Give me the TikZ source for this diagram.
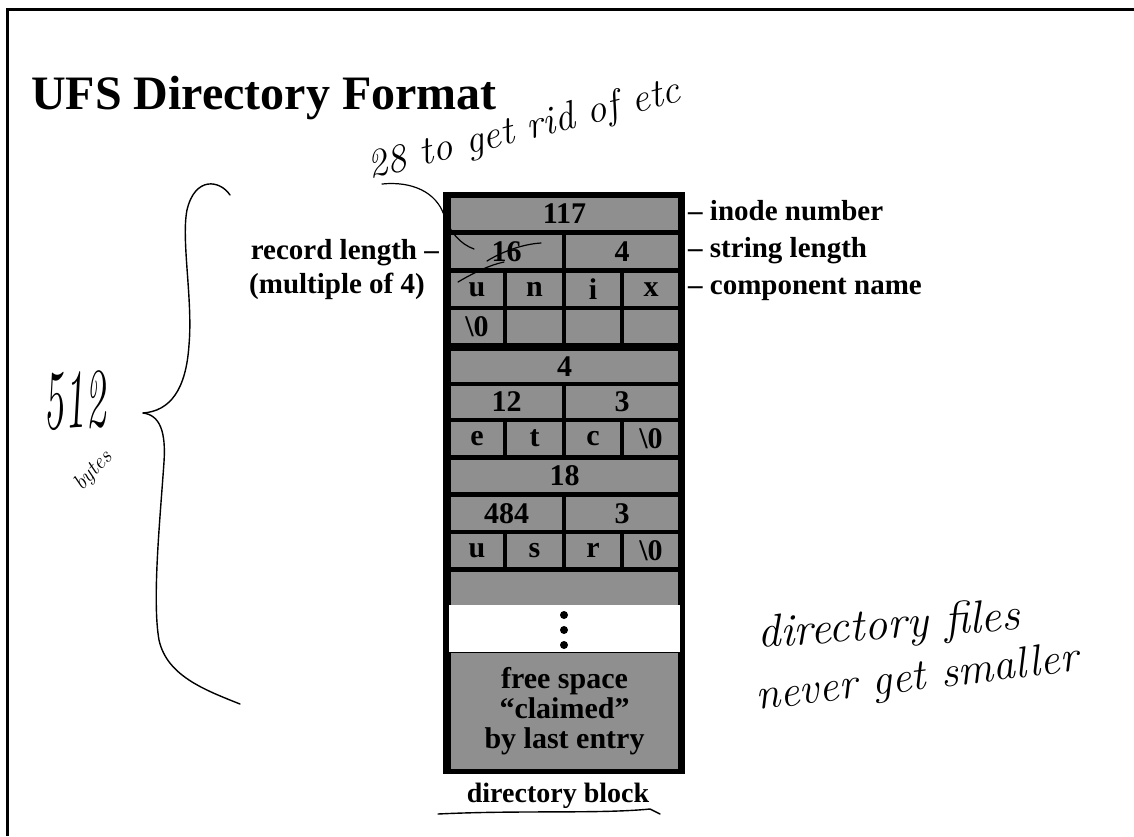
\documentclass[tikz,border=0pt]{standalone}
\usepackage{fontspec}
\setmainfont{Liberation Serif}
\newcommand\handfont[1]{\fontfamily{lmr}\fontshape{it}\fontsize{#1}{#1}\selectfont}
\newcommand\pfont[1]{\bfseries\fontsize{#1}{#1}\selectfont}
\newcommand\freefont{\bfseries\fontsize{30}{30}\selectfont}
\definecolor{shade}{gray}{0.56}
\tikzset{
  cell/.style={fill=shade, draw=none, inner sep=0pt, font=\pfont{30}},
  lbl/.style={inner sep=0pt, font=\pfont{29}},
  ink/.style={line width=1.4pt, line cap=round, line join=round},
  dot/.style={circle, fill=black, inner sep=0pt, minimum size=8pt},
  hw/.style={inner sep=0pt},
}
\newcommand\dcell[6]{\node[cell, minimum width={(#4-#2)*1pt}, minimum height={(#5-#3)*1pt}] (#1) at ({(#2+#4)/2},{(#3+#5)/2}) {#6};}
\begin{document}
\begin{tikzpicture}[x=1pt,y=-1pt]
\useasboundingbox (0,0) rectangle (1134,836);
\fill[white] (0,0) rectangle (1134,836);
% page frame
\draw[line width=3pt] (7,836) -- (7,9) -- (1134,9);
% title
\node[anchor=base west, inner sep=0pt, font=\pfont{48}] (title) at (31,109) {UFS Directory Format};
% block frame
\node[fill=black, inner sep=0pt, minimum width=242pt, minimum height=582pt] (block) at (564,483) {};
% entry 1
\dcell{inoA}{451}{198}{678}{230}{117}
\dcell{rlA}{451}{235}{562}{268}{16}
\dcell{slA}{566}{235}{678}{268}{4}
\dcell{nAa}{451}{273}{503}{306}{u}
\dcell{nAb}{507}{273}{562}{306}{n}
\dcell{nAc}{566}{273}{620}{306}{i}
\dcell{nAd}{624}{273}{678}{306}{x}
\dcell{nAe}{451}{310}{503}{343}{\textbackslash 0}
\dcell{nAf}{507}{310}{562}{343}{}
\dcell{nAg}{566}{310}{620}{343}{}
\dcell{nAh}{624}{310}{678}{343}{}
% entry 2
\dcell{inoB}{451}{351}{678}{382}{4}
\dcell{rlB}{451}{386}{562}{418}{12}
\dcell{slB}{566}{386}{678}{418}{3}
\dcell{nBa}{451}{422}{503}{455}{e}
\dcell{nBb}{507}{422}{562}{455}{t}
\dcell{nBc}{566}{422}{620}{455}{c}
\dcell{nBd}{624}{422}{678}{455}{\textbackslash 0}
% entry 3
\dcell{inoC}{451}{460}{678}{492}{18}
\dcell{rlC}{451}{497}{562}{530}{484}
\dcell{slC}{566}{497}{678}{530}{3}
\dcell{nCa}{451}{534}{503}{567}{u}
\dcell{nCb}{507}{534}{562}{567}{s}
\dcell{nCc}{566}{534}{620}{567}{r}
\dcell{nCd}{624}{534}{678}{567}{\textbackslash 0}
\dcell{pad}{451}{572}{678}{605}{}
% gap with dots
\node[fill=white, inner sep=0pt, minimum width=231pt, minimum height=47pt] (gap) at (564,628.5) {};
\node[dot] (d1) at (564,615) {};
\node[dot] (d2) at (564,630) {};
\node[dot] (d3) at (564,645) {};
% free space
\node[cell, minimum width=227pt, minimum height=116pt, align=center, font=\freefont] (free) at (564.5,711) {free space\\“claimed”\\by last entry};
% caption
\node[lbl, anchor=base, font=\pfont{28}] (cap) at (558,802) {directory block};
\draw[ink] (438,814) .. controls (520,810) and (600,814) .. (650,809) -- (660,814);
% labels
\node[lbl, anchor=base east] (reclen) at (439,259) {record length –};
\node[lbl, anchor=base east] (mult) at (425,293) {(multiple of 4)};
\node[lbl, anchor=base west] (inode) at (688,220) {– inode number};
\node[lbl, anchor=base west] (strlen) at (688,257) {– string length};
\node[lbl, anchor=base west] (comp) at (688,294) {– component name};
% handwriting: note about record length
\node[hw, rotate=14, anchor=base west, font=\handfont{40}] (note) at (370,179) {28 to get rid of etc};
\coordinate (nstart) at (382,184);
\draw[ink, line width=1.2pt] (nstart) .. controls (412,181) and (436,192) .. (444,215) .. controls (450,232) and (460,244) .. (474,249);
\draw[ink, line width=1.2pt] (487,261) .. controls (505,250) and (525,244) .. (541,243);
\draw[ink, line width=1.2pt] (458,282) .. controls (475,272) and (490,265) .. (504,262);
% brace and size
\draw[ink] (230,195) .. controls (220,180) and (195,176) .. (187,210) .. controls (181,240) and (193,300) .. (189,345) .. controls (186,390) and (170,411) .. (143,413);
\draw[ink] (143,413) .. controls (160,415) and (166,432) .. (164,462) .. controls (160,520) and (152,600) .. (159,640) .. controls (167,676) and (205,690) .. (240,704);
\node[hw, rotate=4, anchor=base west, font=\handfont{56}] (n512) at (44,430) {\scalebox{0.75}[1.5]{512}};
\node[hw, rotate=48, anchor=base west, font=\handfont{22}] (bytes) at (82,492) {bytes};
% handwriting: remark
\node[hw, rotate=4, anchor=base west, font=\handfont{46}] (dirfiles) at (758,648) {directory files};
\node[hw, rotate=7, anchor=base west, font=\handfont{44}] (never) at (757,710) {never get smaller};
\end{tikzpicture}
\end{document}
